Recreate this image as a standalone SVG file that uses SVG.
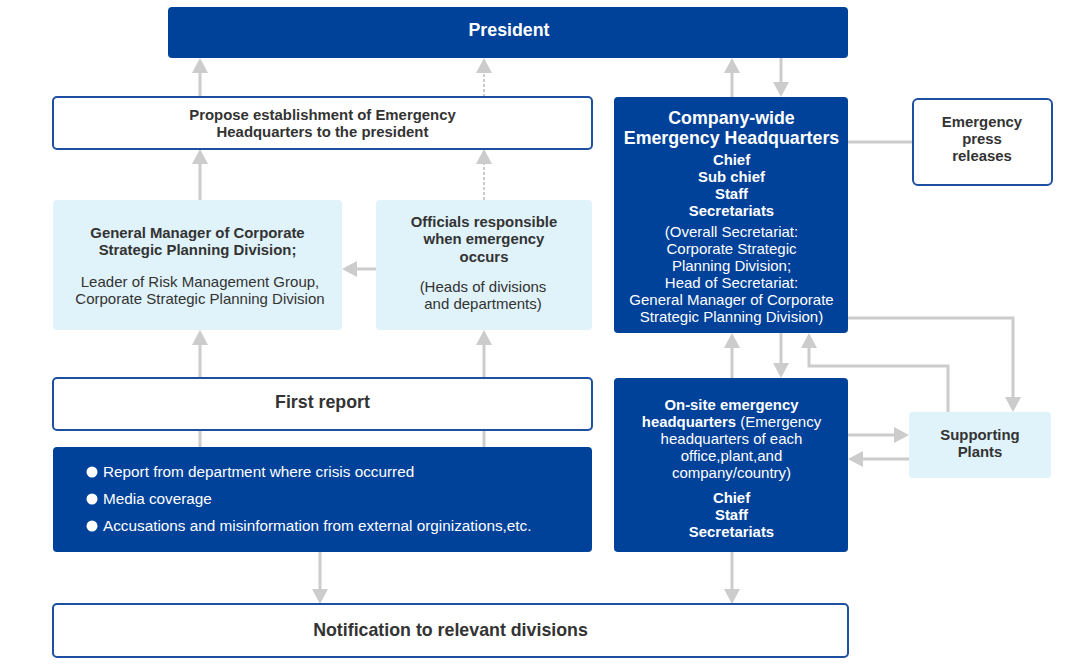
<svg xmlns="http://www.w3.org/2000/svg" width="1080" height="667" viewBox="0 0 1080 667">
<style>
text{font-family:"Liberation Sans",Arial,sans-serif;}
.dark{fill:#00419A;}
.light{fill:#E0F2FA;}
.outline{fill:#fff;stroke:#1E50A2;stroke-width:2;}
.t14{font-size:15px;}
.b{font-weight:bold;font-size:14.9px;}
.t17{font-size:17.8px;}
.bl{font-size:15.3px;}
.w{fill:#fff;}
.g{fill:#333;}
.c{text-anchor:middle;}
.conn{fill:none;stroke:#CCCCCC;stroke-width:3;}
.dash{stroke-width:2;stroke-dasharray:3,2;}
</style>
<defs>
<marker id="ah" viewBox="0 0 15 16" refX="11" refY="8" markerWidth="15" markerHeight="16" markerUnits="userSpaceOnUse" orient="auto">
<path d="M0,0 L15,8 L0,16 Z" fill="#CCCCCC"/>
</marker>
</defs>

<g id="connectors">
<line class="conn" x1="200" y1="97" x2="200" y2="62" marker-end="url(#ah)"/>
<line class="conn dash" x1="484" y1="97" x2="484" y2="62" marker-end="url(#ah)"/>
<line class="conn" x1="732" y1="97" x2="732" y2="62" marker-end="url(#ah)"/>
<line class="conn" x1="781" y1="58" x2="781" y2="93" marker-end="url(#ah)"/>
<line class="conn" x1="200" y1="200" x2="200" y2="153" marker-end="url(#ah)"/>
<line class="conn dash" x1="484" y1="200" x2="484" y2="153" marker-end="url(#ah)"/>
<line class="conn" x1="376" y1="269" x2="346" y2="269" marker-end="url(#ah)"/>
<line class="conn" x1="200" y1="378" x2="200" y2="334" marker-end="url(#ah)"/>
<line class="conn" x1="484" y1="378" x2="484" y2="334" marker-end="url(#ah)"/>
<line class="conn" x1="200" y1="430" x2="200" y2="447"/>
<line class="conn" x1="484" y1="430" x2="484" y2="447"/>
<line class="conn" x1="320" y1="552" x2="320" y2="600" marker-end="url(#ah)"/>
<line class="conn" x1="732" y1="552" x2="732" y2="600" marker-end="url(#ah)"/>
<line class="conn" x1="848" y1="142" x2="913" y2="142"/>
<polyline class="conn" points="848,318 1013,318 1013,408" marker-end="url(#ah)"/>
<line class="conn" x1="732" y1="378" x2="732" y2="337" marker-end="url(#ah)"/>
<line class="conn" x1="781" y1="333" x2="781" y2="374" marker-end="url(#ah)"/>
<polyline class="conn" points="948,412 948,366 809,366 809,337" marker-end="url(#ah)"/>
<line class="conn" x1="848" y1="435" x2="905" y2="435" marker-end="url(#ah)"/>
<line class="conn" x1="909" y1="459" x2="852" y2="459" marker-end="url(#ah)"/>
</g>

<g id="president">
<rect class="dark" x="168" y="7" width="680" height="51" rx="4"/>
<text class="b t17 w c" x="509" y="36">President</text>
</g>

<g id="propose">
<rect class="outline" x="53" y="97" width="539" height="52" rx="4"/>
<text class="b g c" x="322.5" y="120">Propose establishment of Emergency</text>
<text class="b g c" x="322.5" y="137">Headquarters to the president</text>
</g>

<g id="general-manager">
<rect class="light" x="53" y="200" width="289" height="130" rx="4"/>
<text class="b g c" x="197.5" y="238">General Manager of Corporate</text>
<text class="b g c" x="197.5" y="255">Strategic Planning Division;</text>
<text class="t14 g c" x="200" y="287">Leader of Risk Management Group,</text>
<text class="t14 g c" x="200" y="304">Corporate Strategic Planning Division</text>
</g>

<g id="officials">
<rect class="light" x="376" y="200" width="216" height="130" rx="4"/>
<text class="b g c" x="484" y="227">Officials responsible</text>
<text class="b g c" x="484" y="244">when emergency</text>
<text class="b g c" x="484" y="262">occurs</text>
<text class="t14 g c" x="483" y="292">(Heads of divisions</text>
<text class="t14 g c" x="483" y="309">and departments)</text>
</g>

<g id="first-report">
<rect class="outline" x="53" y="378" width="539" height="52" rx="4"/>
<text class="b t17 g c" x="322.5" y="408">First report</text>
</g>

<g id="sources">
<rect class="dark" x="53" y="447" width="539" height="105" rx="4"/>
<circle cx="92" cy="472" r="5.5" fill="#fff"/>
<circle cx="92" cy="499" r="5.5" fill="#fff"/>
<circle cx="92" cy="526" r="5.5" fill="#fff"/>
<text class="bl w" x="103" y="477">Report from department where crisis occurred</text>
<text class="bl w" x="103" y="504">Media coverage</text>
<text class="bl w" x="103" y="531">Accusations and misinformation from external orginizations,etc.</text>
</g>

<g id="notification">
<rect class="outline" x="53" y="604" width="795" height="53" rx="4"/>
<text class="b t17 g c" x="450.5" y="636">Notification to relevant divisions</text>
</g>

<g id="company-wide-hq">
<rect class="dark" x="614" y="97" width="234" height="236" rx="4"/>
<text class="b t17 w c" x="731.5" y="124">Company-wide</text>
<text class="b t17 w c" x="731.5" y="144">Emergency Headquarters</text>
<text class="b w c" x="731.5" y="165">Chief</text>
<text class="b w c" x="731.5" y="182">Sub chief</text>
<text class="b w c" x="731.5" y="199">Staff</text>
<text class="b w c" x="731.5" y="216">Secretariats</text>
<text class="t14 w c" x="731.5" y="237">(Overall Secretariat:</text>
<text class="t14 w c" x="731.5" y="254">Corporate Strategic</text>
<text class="t14 w c" x="731.5" y="271">Planning Division;</text>
<text class="t14 w c" x="731.5" y="288">Head of Secretariat:</text>
<text class="t14 w c" x="731.5" y="305">General Manager of Corporate</text>
<text class="t14 w c" x="731.5" y="322">Strategic Planning Division)</text>
</g>

<g id="press-releases">
<rect class="outline" x="913" y="99" width="139" height="86" rx="5"/>
<text class="b g c" x="982" y="127">Emergency</text>
<text class="b g c" x="982" y="144">press</text>
<text class="b g c" x="982" y="161">releases</text>
</g>

<g id="on-site-hq">
<rect class="dark" x="614" y="378" width="234" height="174" rx="4"/>
<text class="b w c" x="731.5" y="410">On-site emergency</text>
<text class="t14 w c" x="731.5" y="427"><tspan class="b">headquarters</tspan> (Emergency</text>
<text class="t14 w c" x="731.5" y="444">headquarters of each</text>
<text class="t14 w c" x="731.5" y="461">office,plant,and</text>
<text class="t14 w c" x="731.5" y="478">company/country)</text>
<text class="b w c" x="731.5" y="503">Chief</text>
<text class="b w c" x="731.5" y="520">Staff</text>
<text class="b w c" x="731.5" y="537">Secretariats</text>
</g>

<g id="supporting-plants">
<rect class="light" x="909" y="412" width="142" height="66" rx="4"/>
<text class="b g c" x="980" y="440">Supporting</text>
<text class="b g c" x="980" y="457">Plants</text>
</g>
</svg>
